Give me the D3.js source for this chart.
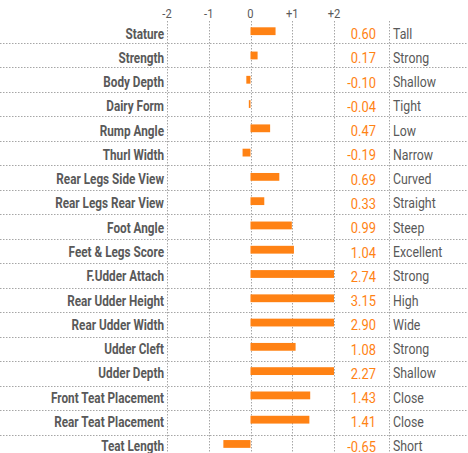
<!DOCTYPE html>
<html lang="en">
<head>
<meta charset="UTF-8">
<title>Linear Traits</title>
<script src="https://d3js.org/d3.v7.min.js"></script>
<style>
    body { margin: 0; background: #fff; }
    svg text { font-family: Roboto, "Open Sans", sans-serif; }
</style>
</head>
<body>
<div id="chart"></div>
<script>
    const traits = ["Stature", "Strength", "Body Depth", "Dairy Form", "Rump Angle", "Thurl Width",
        "Rear Legs Side View", "Rear Legs Rear View", "Foot Angle", "Feet & Legs Score",
        "F.Udder Attach", "Rear Udder Height", "Rear  Udder Width", "Udder Cleft", "Udder Depth",
        "Front Teat Placement", "Rear Teat Placement", "Teat Length"];
    const values = [0.60, 0.17, -0.10, -0.04, 0.47, -0.19, 0.69, 0.33, 0.99, 1.04,
        2.74, 3.15, 2.90, 1.08, 2.27, 1.43, 1.41, -0.65];
    const descriptors = ["Tall", "Strong", "Shallow", "Tight", "Low", "Narrow", "Curved", "Straight",
        "Steep", "Excellent", "Strong", "High", "Wide", "Strong", "Shallow", "Close", "Close", "Short"];
    const ticks = [-2, -1, 0, 1, 2];
    const tickLabels = ["-2", "-1", "0", "+1", "+2"];

    const width = 468, height = 453;

    const svg = d3.select("#chart").append("svg")
        .attr("width", width).attr("height", height);

    const x = d3.scaleLinear().domain([-2, 2]).range([167, 334]).clamp(true);
    // rows (bars + text) and the dotted row separators run on slightly different pitches
    const y = d3.scaleBand().domain(traits).range([19, 19 + 24.28 * traits.length]);
    const ySep = d3.scaleBand().domain(traits).range([18.2, 18.2 + 24.5 * traits.length]);

    const grey = "#a6a6a6";
    const textGrey = "#595959";
    const orange = "#ff8214";

    // vertical grid lines
    svg.append("g").selectAll("line")
        .data(ticks)
        .join("line")
        .attr("x1", d => Math.round(x(d)) + 0.5).attr("x2", d => Math.round(x(d)) + 0.5)
        .attr("y1", 21).attr("y2", height)
        .attr("stroke", grey).attr("stroke-dasharray", "1.5,1.5");
    svg.append("line")
        .attr("x1", 389.5).attr("x2", 389.5).attr("y1", 21).attr("y2", height)
        .attr("stroke", grey).attr("stroke-dasharray", "1.5,1.5");

    // row separators
    svg.append("g").selectAll("line")
        .data(traits.slice(0, -1))
        .join("line")
        .attr("x1", 0).attr("x2", width)
        .attr("y1", d => Math.round(ySep(d) + ySep.bandwidth()) + 0.5)
        .attr("y2", d => Math.round(ySep(d) + ySep.bandwidth()) + 0.5)
        .attr("stroke", grey).attr("stroke-dasharray", "1.5,1.5");

    // tick labels
    svg.append("g").selectAll("text")
        .data(ticks)
        .join("text")
        .attr("transform", d => `translate(${x(d)},18) scale(0.86,1)`)
        .attr("text-anchor", "middle")
        .attr("font-size", 13).attr("fill", textGrey)
        .text((d, i) => tickLabels[i]);

    // bars
    svg.append("g").selectAll("rect")
        .data(values)
        .join("rect")
        .attr("x", d => x(Math.min(0, d)))
        .attr("y", (d, i) => y(traits[i]) + 8.3)
        .attr("width", d => Math.abs(x(d) - x(0)))
        .attr("height", 7.8)
        .attr("fill", orange);

    // trait names
    svg.append("g").selectAll("text")
        .data(traits)
        .join("text")
        .attr("transform", d => `translate(164,${y(d) + 19.5}) scale(0.84,1)`)
        .attr("text-anchor", "end")
        .attr("font-size", 14).attr("font-weight", "bold").attr("fill", textGrey)
        .text(d => d);

    // values
    svg.append("g").selectAll("text")
        .data(values)
        .join("text")
        .attr("transform", (d, i) => `translate(376,${y(traits[i]) + 20}) scale(0.86,1)`)
        .attr("text-anchor", "end")
        .attr("font-size", 15).attr("fill", orange)
        .text(d => d.toFixed(2));

    // descriptors
    svg.append("g").selectAll("text")
        .data(descriptors)
        .join("text")
        .attr("transform", (d, i) => `translate(393,${y(traits[i]) + 19.5}) scale(0.88,1)`)
        .attr("font-size", 14).attr("fill", textGrey)
        .text(d => d);
</script>
</body>
</html>
